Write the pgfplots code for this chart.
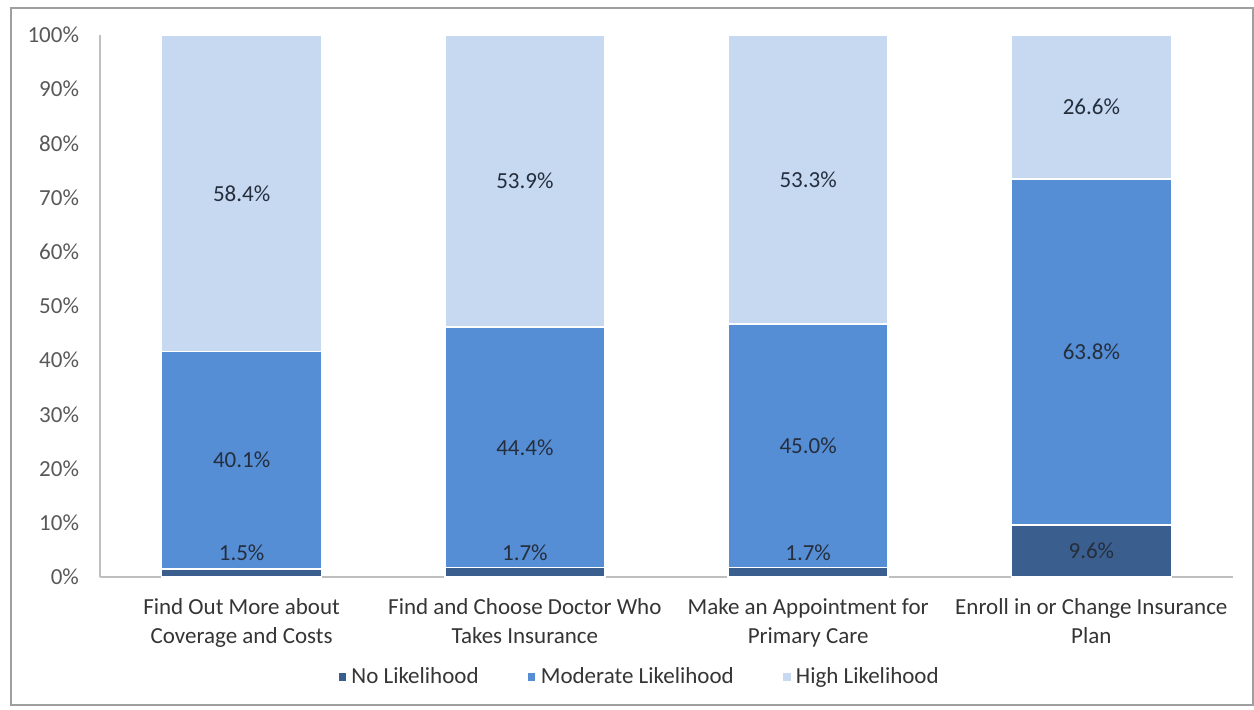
\documentclass[border=0pt]{standalone}
\usepackage{pgfplots}
\pgfplotsset{compat=1.18}
\usepackage{pgfplotstable}
\usepackage{fontspec}
\setmainfont{Carlito}
\definecolor{cNo}{HTML}{3A5E8D}
\definecolor{cMod}{HTML}{558ED5}
\definecolor{cHigh}{HTML}{C6D9F1}
\definecolor{cLab}{HTML}{252E3D}
\definecolor{cTick}{HTML}{595959}
\definecolor{cAxis}{HTML}{BFBFBF}

\pgfplotstableread{
x no mod high
0 1.5 40.1 58.4
1 1.7 44.4 53.9
2 1.7 45.0 53.3
3 9.6 63.8 26.6
}\datatable

\pgfplotstableread{
x y v
0 4.4 1.5
1 4.4 1.7
2 4.4 1.7
3 4.8 9.6
0 21.55 40.1
1 23.9 44.4
2 24.2 45.0
3 41.5 63.8
0 70.8 58.4
1 73.05 53.9
2 73.35 53.3
3 86.7 26.6
}\labtable

\pgfplotsset{
  base/.style={
    scale only axis,
    width=566.5pt, height=271pt,
    at={(50pt,66pt)}, anchor=south west,
    xmin=-0.5, xmax=3.5, ymin=0, ymax=100,
    font=\fontsize{11.5}{14}\selectfont,
    /pgf/number format/assume math mode=true,
  }
}

\begin{document}
\begin{tikzpicture}
\path[use as bounding box] (0,0) rectangle (627pt,354.5pt);
\fill[white] (0,0) rectangle (627pt,354.5pt);
\draw[color=gray!75, line width=1pt] (5.5pt,2pt) rectangle (626.5pt,350.5pt);
\begin{axis}[base,
  ybar stacked, bar width=80pt,
  axis x line*=bottom, axis y line*=left,
  axis line style={cAxis, line width=0.8pt},
  major tick length=0pt,
  xtick={0,1,2,3},
  xticklabels={{Find Out More about\\Coverage and Costs},{Find and Choose Doctor Who\\Takes Insurance},{Make an Appointment for\\Primary Care},{Enroll in or Change Insurance\\Plan}},
  xticklabel style={align=center, font=\fontsize{11.5}{14.5}\selectfont, text=cTick!60!black, yshift=-7pt},
  ytick={0,10,...,100},
  yticklabel={\pgfmathprintnumber{\tick}\%},
  yticklabel style={text=cTick, xshift=-7pt},
  legend style={at={(0.4766,-0.1845)}, anchor=center, draw=none, legend columns=3,
    font=\fontsize{11.5}{14}\selectfont, text=cTick!60!black,
    /tikz/every even column/.append style={column sep=22pt}},
  legend image code/.code={\fill[#1] (0pt,-2.2pt) rectangle (4.4pt,2.2pt);},
]
\addplot[fill=cNo, draw=white, line width=0.7pt] table[x=x,y=no]{\datatable};
\addlegendentry{No Likelihood}
\addplot[fill=cMod, draw=white, line width=0.7pt] table[x=x,y=mod]{\datatable};
\addlegendentry{Moderate Likelihood}
\addplot[fill=cHigh, draw=white, line width=0.7pt] table[x=x,y=high]{\datatable};
\addlegendentry{High Likelihood}
\end{axis}
\begin{axis}[base, hide axis]
\addplot[only marks, mark=none, point meta=explicit,
  nodes near coords={\pgfmathprintnumber[fixed,fixed zerofill,precision=1,assume math mode=true]{\pgfplotspointmeta}\%},
  nodes near coords style={anchor=center, text=cLab, font=\fontsize{11.5}{14}\selectfont}]
  table[x=x,y=y,meta=v]{\labtable};
\end{axis}
\end{tikzpicture}
\end{document}
